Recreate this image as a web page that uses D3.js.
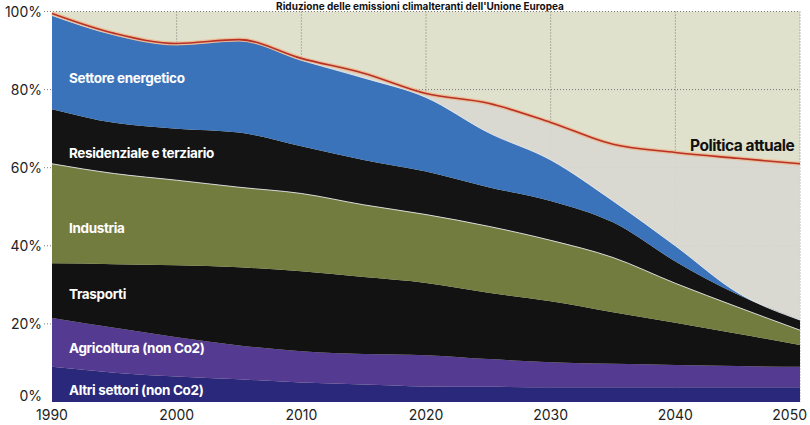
<!DOCTYPE html>
<html>
<head>
<meta charset="utf-8">
<script src="https://cdn.jsdelivr.net/npm/d3@7"></script>
<style>
  html, body { margin: 0; padding: 0; background: #ffffff; }
  svg { display: block; }
</style>
</head>
<body>
<svg id="chart" width="810" height="425"></svg>
<script>
// Years of the scenario (percent of 1990 emissions)
const years = [1990, 1995, 2000, 2005, 2010, 2015, 2020, 2025, 2030, 2035, 2040, 2045, 2050];

// Sector shares, bottom to top of the stack
const altriSettori   = [9.0, 7.5, 6.5, 5.8, 5.0, 4.5, 4.0, 3.9, 3.8, 3.8, 3.8, 3.8, 3.8];
const agricoltura    = [12.5, 11.5, 10.1, 8.7, 8.0, 7.8, 8.0, 7.1, 6.4, 6.0, 5.7, 5.4, 5.2];
const trasporti      = [14.0, 16.3, 18.4, 20.0, 20.5, 19.7, 18.5, 17.0, 15.6, 13.2, 10.8, 8.3, 5.6];
const industria      = [25.5, 23.2, 21.8, 20.5, 19.9, 18.5, 17.5, 17.0, 15.6, 14.0, 10.1, 6.8, 3.8];
const residenziale   = [14.0, 13.0, 13.2, 14.0, 12.1, 11.5, 11.0, 10.0, 10.1, 9.0, 5.6, 3.2, 2.6];
const settoreEnerg   = [24.0, 22.5, 21.5, 23.5, 22.0, 21.0, 19.0, 14.0, 10.5, 5.5, 4.0, 0.5, 0.0];

// Trajectory with current policies
const politicaAttuale = [99.5, 94.4, 91.8, 92.8, 88.0, 84.2, 79.0, 76.5, 71.6, 66.0, 63.9, 62.4, 61.0];

const seriesNames = ["Altri settori (non Co2)", "Agricoltura (non Co2)", "Trasporti",
                     "Industria", "Residenziale e terziario", "Settore energetico"];
const seriesValues = [altriSettori, agricoltura, trasporti, industria, residenziale, settoreEnerg];
const seriesColors = ["#29287a", "#553a92", "#121212", "#737c3f", "#141414", "#3b73ba"];

const yTicks = [0, 20, 40, 60, 80, 100];
const xTicks = [1990, 2000, 2010, 2020, 2030, 2040, 2050];

const svg = d3.select("#chart");
const plotLeft = 52, plotRight = 800, plotTop = 11.5, plotBottom = 402;
const font = "Inter, 'Noto Sans', sans-serif";

const x = d3.scaleLinear().domain([1990, 2050]).range([plotLeft, plotRight]);
const y = d3.scaleLinear().domain([0, 100]).range([plotBottom, plotTop]);

// Title line above the plot
svg.append("text")
  .attr("x", 420).attr("y", 10)
  .attr("text-anchor", "middle")
  .attr("font-family", font)
  .attr("font-weight", 700).attr("font-size", 10)
  .attr("fill", "#111")
  .text("Riduzione delle emissioni climalteranti dell'Unione Europea");

// Plot background
svg.append("rect")
  .attr("x", plotLeft).attr("y", plotTop)
  .attr("width", plotRight - plotLeft).attr("height", plotBottom - plotTop)
  .attr("fill", "#e0e1cd");

// Dotted grid
const grid = svg.append("g").attr("stroke", "#7a7a72").attr("stroke-width", 1)
  .attr("stroke-dasharray", "1,2");
grid.selectAll("line.h").data(yTicks.filter(d => d > 0)).join("line")
  .attr("class", "h")
  .attr("x1", plotLeft - 8).attr("x2", plotRight)
  .attr("y1", d => y(d)).attr("y2", d => y(d));
grid.selectAll("line.v").data(xTicks.slice(1)).join("line")
  .attr("class", "v")
  .attr("x1", d => x(d)).attr("x2", d => x(d))
  .attr("y1", plotTop).attr("y2", plotBottom);

// Stack the sectors
const table = years.map((yr, i) => {
  const row = { year: yr };
  seriesNames.forEach((n, k) => { row[n] = seriesValues[k][i]; });
  return row;
});
const stacked = d3.stack().keys(seriesNames)(table);
const topOfStack = stacked[stacked.length - 1];

// Band between the current-policy trajectory and the stacked total
const gap = d3.area()
  .x((d, i) => x(years[i]))
  .y0((d, i) => y(topOfStack[i][1]))
  .y1(d => y(d))
  .curve(d3.curveMonotoneX);
svg.append("path").datum(politicaAttuale)
  .attr("d", gap).attr("fill", "#d9d8d1").attr("opacity", 0.9);

const area = d3.area()
  .x(d => x(d.data.year))
  .y0(d => y(d[0]))
  .y1(d => y(d[1]))
  .curve(d3.curveMonotoneX);

svg.append("g").selectAll("path").data(stacked).join("path")
  .attr("d", area)
  .attr("fill", (d, i) => seriesColors[i]);

// Light edges on the top of industry and energy bands
const edge = d3.line()
  .x(d => x(d.data.year))
  .y(d => y(d[1]))
  .curve(d3.curveMonotoneX);
[3, 5].forEach(k => {
  svg.append("path").datum(stacked[k])
    .attr("d", edge).attr("fill", "none")
    .attr("stroke", "#e9ecef").attr("stroke-width", 1).attr("opacity", 0.85);
});

// Current-policy line
const pLine = d3.line()
  .x((d, i) => x(years[i]))
  .y(d => y(d))
  .curve(d3.curveMonotoneX);
svg.append("path").datum(politicaAttuale)
  .attr("d", pLine).attr("fill", "none")
  .attr("stroke", "#f0b07c").attr("stroke-width", 4).attr("opacity", 0.7);
svg.append("path").datum(politicaAttuale)
  .attr("d", pLine).attr("fill", "none")
  .attr("stroke", "#b8302a").attr("stroke-width", 1.6);

// Y axis labels
svg.append("g").selectAll("text").data(yTicks).join("text")
  .attr("x", 42)
  .attr("y", d => d === 0 ? y(d) - 1 : y(d) + 5)
  .attr("text-anchor", "end")
  .attr("font-family", font)
  .attr("font-size", 14).attr("fill", "#222")
  .text(d => d + "%");

// X axis labels (the last one kept inside the frame)
svg.append("g").selectAll("text").data(xTicks).join("text")
  .attr("x", d => d === 2050 ? 807 : x(d))
  .attr("y", 420)
  .attr("text-anchor", d => d === 2050 ? "end" : "middle")
  .attr("font-family", font)
  .attr("font-size", 14).attr("fill", "#222")
  .text(d => d);

// Sector labels inside the bands
const labelY = [390, 348, 294, 228, 153, 78];
svg.append("g").selectAll("text").data(seriesNames).join("text")
  .attr("x", 69)
  .attr("y", (d, i) => labelY[i] + 4.5)
  .attr("font-family", font)
  .attr("font-weight", 700).attr("font-size", 13.5)
  .attr("letter-spacing", -0.35)
  .attr("fill", "#ffffff")
  .text(d => d);

svg.append("text")
  .attr("x", 690).attr("y", 151)
  .attr("font-family", font)
  .attr("font-weight", 700).attr("font-size", 15.5)
  .attr("letter-spacing", -0.45)
  .attr("fill", "#111")
  .text("Politica attuale");
</script>
</body>
</html>
